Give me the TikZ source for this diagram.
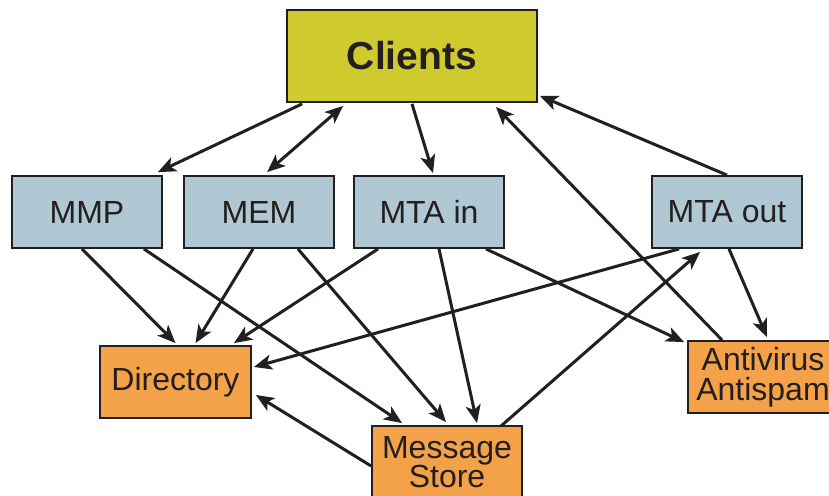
\documentclass[tikz,border=0pt]{standalone}
\usepackage{fontspec}
\setmainfont{Liberation Sans}
\usetikzlibrary{arrows.meta,calc}

\definecolor{clientfill}{RGB}{207,203,47}
\definecolor{servfill}{RGB}{176,200,212}
\definecolor{storefill}{RGB}{243,162,74}
\definecolor{ink}{RGB}{35,31,32}

\tikzset{
  box/.style={draw=ink, line width=1.8pt, rectangle, inner sep=0pt,
    minimum width=150pt, minimum height=72pt, text=ink, align=center,
    font=\fontsize{32}{29.5}\selectfont},
  clientbox/.style={box, fill=clientfill, minimum width=250pt, minimum height=92pt,
    font=\fontsize{39}{40}\selectfont\bfseries},
  servbox/.style={box, fill=servfill},
  storebox/.style={box, fill=storefill},
  tip/.style={Stealth[length=18pt,width=15pt,inset=4.5pt]},
  link/.style={draw=ink, line width=3pt, -{Stealth[length=18pt,width=15pt,inset=4.5pt]}},
  dlink/.style={link,
    {Stealth[length=18pt,width=15pt,inset=4.5pt]}-{Stealth[length=18pt,width=15pt,inset=4.5pt]}},
}

\begin{document}
\begin{tikzpicture}[x=1pt,y=-1pt]
\useasboundingbox (0,0) rectangle (829,495);
\clip (0,0) rectangle (829,495);

% nodes
\node[clientbox] (clients) at (412,56) {Clients};
\node[servbox] (mmp)    at (87,212)  {MMP};
\node[servbox] (mem)    at (259,212) {MEM};
\node[servbox] (mtain)  at (429,212) {MTA in};
\node[servbox] (mtaout) at (727,212) {MTA out};
\node[storebox, minimum width=151pt] (dir) at (175.5,382) {Directory};
\node[storebox] (ms) at (447,462) {Message\\Store};
\node[storebox] (av) at (763,377) {Antivirus\\Antispam};

% client access
\draw[link]  ($(clients.south west)+(16,1)$) -- ($(mmp.north east)+(-5,-3)$);
\draw[dlink] ($(clients.south west)+(57,3)$) -- ($(mem.north west)+(84,-3)$);
\draw[link]  ($(clients.south)+(0,1)$) -- ($(mtain.north)+(4,-2)$);
\draw[link]  (mtaout.north) -- ($(clients.south east)+(2,-7)$);
\draw[link]  ($(av.north west)+(35,0)$) -- ($(clients.south east)+(-42,4)$);

% services to directory and store
\draw[link] ($(mmp.south)+(-5,0)$) -- ($(dir.north)+(0,-2)$);
\draw[link] ($(mmp.south east)+(-19,0)$) -- ($(ms.north west)+(31,-2)$);
\draw[link] ($(mem.south)+(-6,0)$) -- ($(dir.north)+(20,-2)$);
\draw[link] ($(mem.south east)+(-37,0)$) -- ($(ms.north)+(-1,-3)$);
\draw[link] ($(mtain.south west)+(25,0)$) -- ($(dir.north east)+(-18,-2)$);
\draw[link] ($(mtain.south)+(10,0)$) -- ($(ms.north)+(30,-2)$);
\draw[link] ($(mtain.south east)+(-19,0)$) -- ($(av.north west)+(-3,2)$);
\draw[link] ($(mtaout.south west)+(28,0)$) -- ($(dir.east)+(2,-15)$);
\draw[link] ($(ms.north east)+(-22,1)$) -- ($(mtaout.south west)+(49,3)$);
\draw[link] ($(mtaout.south)+(2,0)$) -- ($(av.north)+(4,-3)$);
\draw[link] ($(ms.west)+(0,4)$) -- ($(dir.east)+(4,13)$);
\end{tikzpicture}
\end{document}
